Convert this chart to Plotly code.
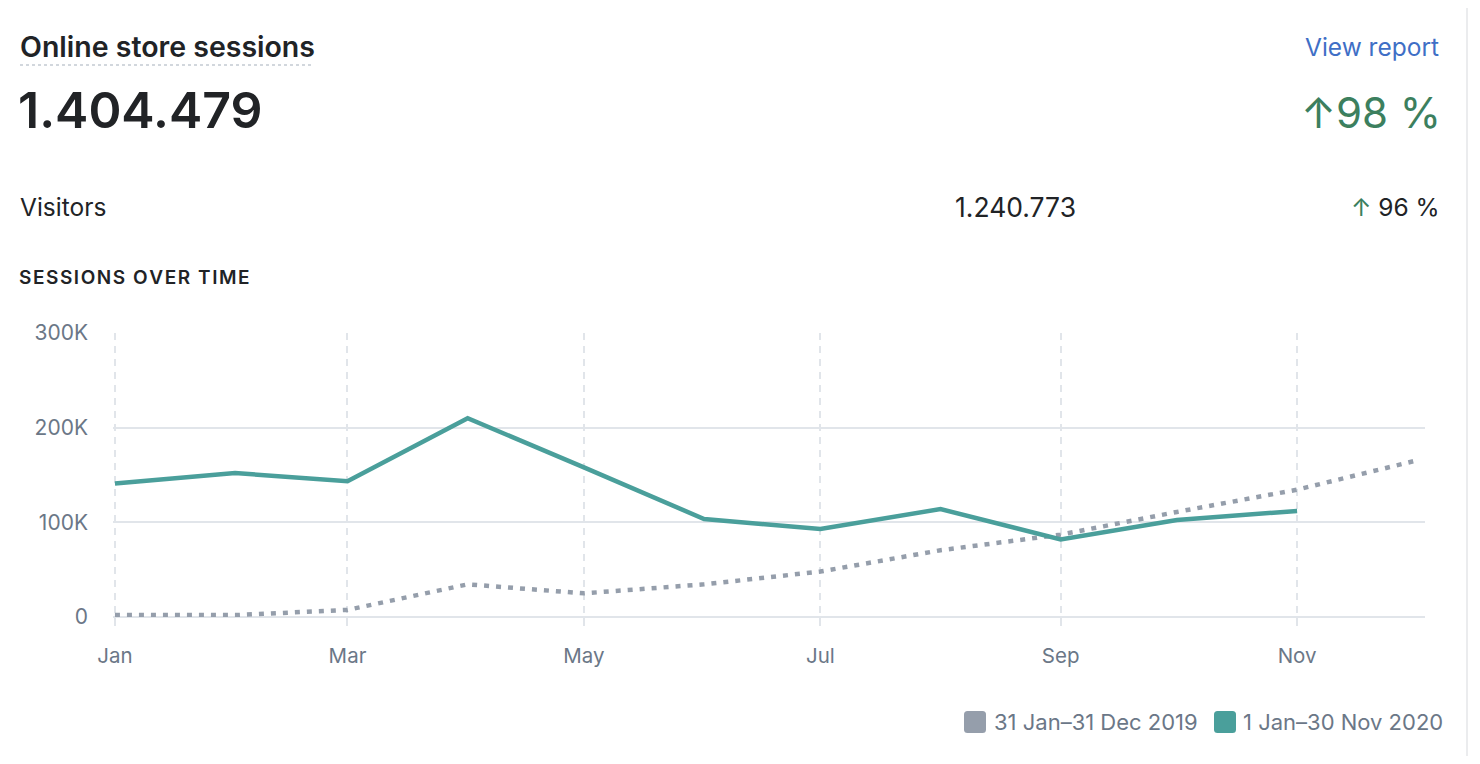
import plotly.graph_objects as go

# ---------------- data ----------------
months = ["2020-01-01", "2020-02-01", "2020-03-01", "2020-04-01", "2020-05-01", "2020-06-01",
          "2020-07-01", "2020-08-01", "2020-09-01", "2020-10-01", "2020-11-01", "2020-12-01"]
sessions_2020 = [141000, 152000, 143500, 210000, 158000, 103500,
                 93000, 114000, 82000, 102500, 112000]
sessions_2019 = [2000, 2000, 7500, 34500, 25000, 34500,
                 48000, 70500, 87000, 111000, 134500, 164500]
series_names = ["31 Jan\u201331 Dec 2019", "1 Jan\u201330 Nov 2020"]
ytick_vals = [0, 100000, 200000, 300000]
ytick_text = ["0", "100K", "200K", "300K"]
xtick_vals = ["2020-01-01", "2020-03-01", "2020-05-01", "2020-07-01", "2020-09-01", "2020-11-01"]
xtick_text = ["Jan", "Mar", "May", "Jul", "Sep", "Nov"]

title = "Online store sessions"
total = "1.404.479"
total_change = "\u219198 %"
visitors_label = "Visitors"
visitors_value = "1.240.773"
visitors_change = "96 %"
chart_title = "SESSIONS OVER TIME"
link_text = "View report"

# ---------------- layout helpers ----------------
FIG_W, FIG_H = 1464, 748
OFF = 8
L, R, T, B = 105, 47, 325, 139
PW = FIG_W - L - R
PH = FIG_H - T - B

def px(x):
    return (x - OFF - L) / PW

def py(y):
    return (FIG_H - B - (y - OFF)) / PH

TEAL = "#4a9f9b"
GRAY = "#959eab"
GRID = "#e1e5ea"
INK = "#212326"
TICK = "#6b7787"
GREEN = "#3c7f5e"
BLUE = "#3f6fc6"
FONT = "Inter"

fig = go.Figure()
fig.add_trace(go.Scatter(x=months[:len(sessions_2019)], y=sessions_2019, mode="lines",
                         name=series_names[0], line=dict(color=GRAY, width=4.5, dash="5px,7px"),
                         showlegend=False, hoverinfo="skip"))
fig.add_trace(go.Scatter(x=months[:len(sessions_2020)], y=sessions_2020, mode="lines",
                         name=series_names[1], line=dict(color=TEAL, width=4.5),
                         showlegend=False, hoverinfo="skip"))

ann = []
def add_text(text, x, y, size, color=INK, xanchor="left", weight=None):
    f = dict(family=FONT, size=size, color=color)
    if weight:
        f["weight"] = weight
    ann.append(dict(text=text, x=px(x), y=py(y), xref="paper", yref="paper",
                    xanchor=xanchor, yanchor="middle", showarrow=False, font=f))

add_text(title, 18, 46, 28.5, weight=600)
add_text(link_text, 1441, 47, 24.5, color=BLUE, xanchor="right")
add_text(total, 16, 110, 50, weight=600)
add_text(total_change, 1443, 112, 42, color=GREEN, xanchor="right")
add_text(visitors_label, 18, 207, 24.5)
add_text(visitors_value, 1078, 207, 26.5, xanchor="right")
add_text("<span style='color:%s'>\u2191</span> %s" % (GREEN, visitors_change), 1442, 207, 24.5,
         xanchor="right")
add_text("\u200a".join(chart_title), 17, 277, 19, weight=600)

# legend
add_text(series_names[0], 992, 722, 22, color=TICK)
add_text(series_names[1], 1241, 722, 22, color=TICK)

shapes = []
# dotted underline under title
shapes.append(dict(type="line", xref="paper", yref="paper", x0=px(20), x1=px(314),
                   y0=py(65), y1=py(65), line=dict(color="#c4cad2", width=1.5, dash="dot")))
# right card border
shapes.append(dict(type="line", xref="paper", yref="paper", x0=px(1467), x1=px(1467),
                   y0=py(0), y1=py(764), line=dict(color="#e4e6e9", width=1.5)))

def rounded_square(cx_pix, cy_pix, size, color):
    h = size / 2.0
    r = 3.5
    path = ("M {a},{b} L {c},{b} Q {d},{b} {d},{e} L {d},{f} Q {d},{g} {c},{g} "
            "L {a},{g} Q {h0},{g} {h0},{f} L {h0},{e} Q {h0},{b} {a},{b} Z").format(
        a=-h + r, b=-h, c=h - r, d=h, e=-h + r, f=h - r, g=h, h0=-h)
    return dict(type="path", xref="paper", yref="paper", xsizemode="pixel", ysizemode="pixel",
                xanchor=px(cx_pix), yanchor=py(cy_pix), path=path,
                fillcolor=color, line=dict(width=0))

shapes.append(rounded_square(975, 722, 22, GRAY))
shapes.append(rounded_square(1225, 722, 22, TEAL))

fig.update_layout(
    width=FIG_W, height=FIG_H,
    margin=dict(l=L, r=R, t=T, b=B, pad=0),
    paper_bgcolor="white", plot_bgcolor="white",
    font=dict(family=FONT, color=TICK),
    annotations=ann, shapes=shapes,
    showlegend=False,
    xaxis=dict(type="date", range=["2019-12-31 12:00", "2020-12-04"],
               tickmode="array", tickvals=xtick_vals, ticktext=xtick_text,
               showgrid=True, gridcolor=GRID, gridwidth=1.5, griddash="7px,6px",
               ticks="outside", ticklen=8, tickcolor=GRID, tickwidth=1.5,
               tickfont=dict(family=FONT, size=20.5, color=TICK),
               ticklabelstandoff=12,
               showline=False, zeroline=False, fixedrange=True),
    yaxis=dict(range=[0, 300000], tickmode="array", tickvals=ytick_vals, ticktext=ytick_text,
               showgrid=True, gridcolor=GRID, gridwidth=2,
               zeroline=True, zerolinecolor=GRID, zerolinewidth=2,
               ticks="", tickfont=dict(family=FONT, size=21, color=TICK),
               ticklabelstandoff=24,
               showline=False, fixedrange=True),
)

fig.write_html("out.html", config={"displayModeBar": False})
